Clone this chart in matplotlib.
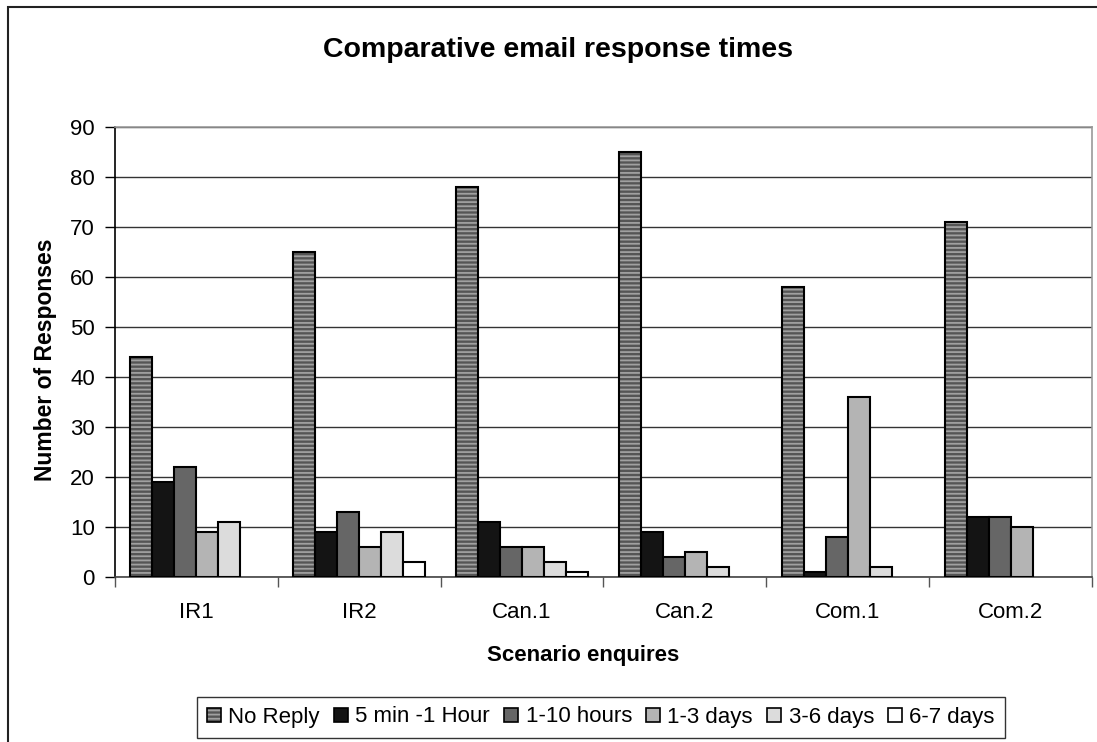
import numpy as np
import matplotlib.pyplot as plt
from matplotlib.patches import Rectangle

plt.rcParams['font.family'] = ['Liberation Sans', 'DejaVu Sans']
plt.rcParams['hatch.linewidth'] = 1.3

scenarios = ['IR1', 'IR2', 'Can.1', 'Can.2', 'Com.1', 'Com.2']
series = ['No Reply', '5 min -1 Hour', '1-10 hours', '1-3 days', '3-6 days', '6-7 days']
no_reply = [44, 65, 78, 85, 58, 71]
min5_1h = [19, 9, 11, 9, 1, 12]
h1_10 = [22, 13, 6, 4, 8, 12]
d1_3 = [9, 6, 6, 5, 36, 10]
d3_6 = [11, 9, 3, 2, 2, 0]
d6_7 = [0, 3, 1, 0, 0, 0]
values = [no_reply, min5_1h, h1_10, d1_3, d3_6, d6_7]
colors = ['#555555', '#141414', '#666666', '#b4b4b4', '#dcdcdc', '#ffffff']
stripe = '#a0a0a0'

W, H = 1097, 742
fig = plt.figure(figsize=(W / 100, H / 100), dpi=100)
ax = fig.add_axes([115 / W, 1 - 577 / H, (1092 - 115) / W, (577 - 127) / H])

x = np.arange(len(scenarios))
bw = 22 / 163
handles = []
for i, (vals, c) in enumerate(zip(values, colors)):
    pos = x - 2.5 * bw + i * bw
    # no outline for empty bars
    edges = ['black' if v > 0 else 'none' for v in vals]
    if i == 0:
        ax.bar(pos, vals, bw, color=c, edgecolor=stripe, hatch='----',
               linewidth=0, zorder=3)
        ax.bar(pos, vals, bw, fill=False, edgecolor=edges, linewidth=1.5, zorder=4)
        handles.append((Rectangle((0, 0), 1, 1, facecolor=c, edgecolor=stripe,
                                  hatch='----', linewidth=0),
                        Rectangle((0, 0), 1, 1, fill=False, edgecolor='black', linewidth=1.2)))
    else:
        ax.bar(pos, vals, bw, color=c, edgecolor=edges, linewidth=1.5, zorder=3)
        handles.append(Rectangle((0, 0), 1, 1, facecolor=c, edgecolor='black', linewidth=1.2))

ax.set_xlim(-0.5, len(scenarios) - 0.5)
ax.set_ylim(0, 90)
ax.set_yticks(range(0, 91, 10))
ax.set_xticks(x)
ax.set_xticklabels(scenarios)
ax.set_xticks(np.arange(-0.5, len(scenarios) + 0.5, 1), minor=True)
ax.tick_params(axis='x', which='major', length=0, pad=18, labelsize=16)
ax.tick_params(axis='x', which='minor', length=7, width=1, color='#555555', direction='out')
ax.tick_params(axis='y', length=7, width=1, labelsize=16, pad=7.5)
ax.yaxis.grid(True, color='#333333', linewidth=1, zorder=0)
ax.set_axisbelow(True)

ax.spines['left'].set_color('black')
ax.spines['bottom'].set_color('#444444')
ax.spines['top'].set_color('#999999')
ax.spines['right'].set_color('#999999')
for s in ax.spines.values():
    s.set_linewidth(1.2)

fig.text(558 / W, 1 - 50 / H, 'Comparative email response times', ha='center', va='center',
         fontsize=20.5, fontweight='bold')
fig.text(46 / W, 1 - 360 / H, 'Number of Responses', ha='center', va='center',
         rotation=90, fontsize=16.5, fontweight='bold')
fig.text(583 / W, 1 - 655 / H, 'Scenario enquires', ha='center', va='center',
         fontsize=16, fontweight='bold')

leg = fig.legend(handles, series, loc='center', bbox_to_anchor=(601 / W, 1 - 717 / H),
                 ncol=6, fontsize=16, frameon=True, fancybox=False, edgecolor='black',
                 handlelength=0.6, handleheight=0.6, handletextpad=0.35, columnspacing=0.65,
                 borderpad=0.45, borderaxespad=0)
leg.get_frame().set_linewidth(1.0)

fig.patches.append(Rectangle((8 / W, -0.1), 1.2, 1 - 7 / H + 0.1, transform=fig.transFigure,
                             fill=False, edgecolor='#222222', linewidth=1.5))

fig.savefig('out.png', dpi=100)
